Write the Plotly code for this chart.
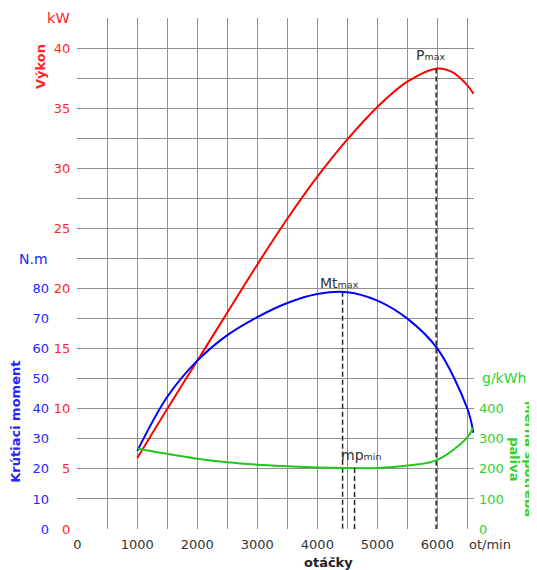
import plotly.graph_objects as go

# ---- data ----
rpm_power = [1000, 1500, 2000, 2500, 3000, 3500, 4000, 4500, 5000, 5500, 6000, 6250, 6500, 6600]
power_kw = [5.9, 10.0, 14.0, 18.0, 22.0, 25.8, 29.3, 32.4, 35.1, 37.2, 38.3, 38.0, 36.9, 36.2]

rpm_torque = [1000, 1500, 2000, 2500, 3000, 3500, 4000, 4500, 5000, 5500, 6000, 6500, 6600]
torque_nm = [26.0, 44.0, 56.0, 64.5, 70.5, 75.2, 78.2, 78.8, 76.0, 70.0, 60.0, 40.0, 32.0]

rpm_fuel = [1000, 1500, 2000, 2500, 3000, 3500, 4000, 4500, 5000, 5500, 6000, 6500, 6600]
fuel_gkwh = [268, 250, 234, 222, 214, 209, 205, 203, 203, 211, 230, 305, 338]

pmax_rpm, pmax_kw = 5980, 38.3
mtmax_rpm, mtmax_nm = 4420, 78.9
mpmin_rpm, mpmin_g = 4620, 203

x_ticks = list(range(0, 6501, 500))
x_ticktext = [str(v) if v % 1000 == 0 else "" for v in x_ticks]
kw_ticks = [i * 2.5 for i in range(18)]
kw_ticktext = [str(int(v)) if v % 5 == 0 and v <= 40 else "" for v in kw_ticks]
nm_ticks = list(range(0, 81, 10))
g_ticks = list(range(0, 401, 100))

RED = "#ff0000"
BLUE = "#0000ff"
GREEN = "#1ec81e"
RED_T = "#ff2626"
BLUE_T = "#2626ff"
GREEN_T = "#2ed22e"
GRID = "#909090"
FONT = "DejaVu Sans"

OFF = 8  # page body margin
W, H = 537 - OFF, 570 - OFF
L_PX, R_PX = 77.3 - OFF, 474.0 - OFF
T_PX, B_PX = 18.0 - OFF, 529.3 - OFF

fig = go.Figure()

fig.add_trace(go.Scatter(x=rpm_power, y=power_kw, mode="lines",
                         line=dict(color=RED, width=2, shape="spline", smoothing=1),
                         yaxis="y", showlegend=False, hoverinfo="skip"))
fig.add_trace(go.Scatter(x=rpm_torque, y=torque_nm, mode="lines",
                         line=dict(color=BLUE, width=2, shape="spline", smoothing=1),
                         yaxis="y2", showlegend=False, hoverinfo="skip"))
fig.add_trace(go.Scatter(x=rpm_fuel, y=fuel_gkwh, mode="lines",
                         line=dict(color=GREEN, width=2, shape="spline", smoothing=1),
                         yaxis="y3", showlegend=False, hoverinfo="skip"))

dash = "5px,3px"
fig.add_trace(go.Scatter(x=[pmax_rpm, pmax_rpm], y=[pmax_kw, 0], mode="lines",
                         line=dict(color="#222", width=1.5, dash=dash),
                         yaxis="y", showlegend=False, hoverinfo="skip"))
fig.add_trace(go.Scatter(x=[mtmax_rpm, mtmax_rpm], y=[mtmax_nm, 0], mode="lines",
                         line=dict(color="#222", width=1.5, dash=dash),
                         yaxis="y2", showlegend=False, hoverinfo="skip"))
fig.add_trace(go.Scatter(x=[mpmin_rpm, mpmin_rpm], y=[mpmin_g, 0], mode="lines",
                         line=dict(color="#222", width=1.5, dash=dash),
                         yaxis="y3", showlegend=False, hoverinfo="skip"))

dom = [L_PX / W, R_PX / W]
plot_h = B_PX - T_PX


def px(xref_pix):
    return (xref_pix - OFF) / W


def py(yref_pix):
    return (B_PX - (yref_pix - OFF)) / plot_h


fig.update_layout(
    template=None,
    width=W, height=H,
    margin=dict(l=0, r=0, t=T_PX, b=H - B_PX, pad=0, autoexpand=False),
    paper_bgcolor="white", plot_bgcolor="white",
    font=dict(family=FONT, size=13, color="#333"),
    xaxis=dict(domain=dom, range=[0, 6610], tickvals=x_ticks, ticktext=x_ticktext,
               showgrid=True, gridcolor=GRID, gridwidth=1, zeroline=False,
               showline=False, ticks="", tickfont=dict(size=13, color="#333"),
               ticklabelstandoff=6, automargin=False),
    yaxis=dict(range=[0, 42.5], tickvals=kw_ticks, ticktext=kw_ticktext,
               showgrid=True, gridcolor=GRID, gridwidth=1, zeroline=False,
               showline=False, ticks="", tickfont=dict(size=13, color=RED_T),
               ticklabelstandoff=6, automargin=False),
    yaxis2=dict(range=[0, 170], tickvals=nm_ticks, overlaying="y", anchor="free",
                position=(49 - OFF) / W, side="left", showgrid=False, zeroline=False,
                showline=False, ticks="", tickfont=dict(size=13, color=BLUE_T),
                automargin=False),
    yaxis3=dict(range=[0, 1700], tickvals=g_ticks, overlaying="y", anchor="x",
                side="right", showgrid=False, zeroline=False, showline=False,
                ticks="", tickfont=dict(size=13, color=GREEN_T), ticklabelstandoff=4,
                automargin=False),
)


def A(text, x, y, size, color, angle=0, xanchor="center"):
    return dict(text=text, x=px(x), y=py(y), xref="paper", yref="paper",
                xanchor=xanchor, yanchor="middle", showarrow=False,
                textangle=angle, font=dict(size=size, color=color))


ann = [
    A("kW", 58, 18, 14.5, RED_T),
    A("<b>Výkon</b>", 41, 67, 13, RED_T, angle=-90),
    A("N.m", 33, 259, 14, BLUE_T),
    A("<b>Krútiaci moment</b>", 16, 422, 13, BLUE_T, angle=-90),
    A("g/kWh", 480, 378, 14, GREEN_T, xanchor="left"),
    A("<b>Merná spotreba</b>", 529, 459, 13, GREEN_T, angle=90),
    A("<b>paliva</b>", 514.5, 459, 13, GREEN_T, angle=90),
    A("ot/min", 490, 545, 13, "#333"),
    A("<b>otáčky</b>", 328, 563, 13, "#222"),
]

small = "<span style='font-size:9.5px'>%s</span>"
ann += [
    A("P" + small % "max", 431, 55, 14, "#333"),
    A("Mt" + small % "max", 339, 283, 14, "#333"),
    A("mp" + small % "min", 361, 455, 14, "#333"),
]

fig.update_layout(annotations=ann)

fig.write_html("out.html")
